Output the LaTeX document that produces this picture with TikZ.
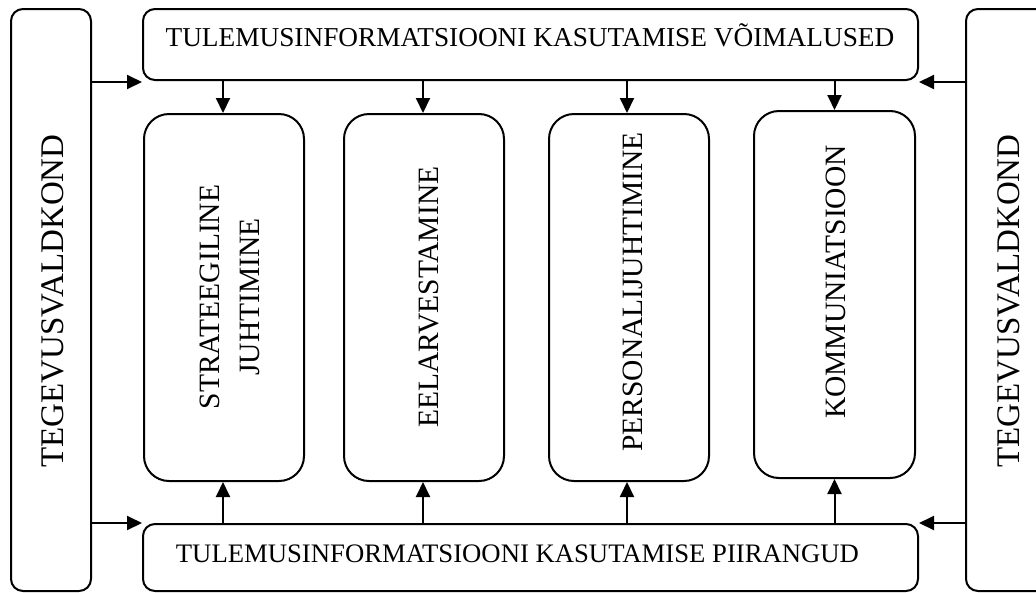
\documentclass[tikz,border=0pt]{standalone}
\usepackage{fontspec}
\setmainfont{Liberation Serif}
\usetikzlibrary{arrows.meta}
\begin{document}
\begin{tikzpicture}[x=1pt,y=-1pt,
  outerbox/.style={draw, line width=2pt, rounded corners=12pt, inner sep=0pt, anchor=north west},
  innerbox/.style={draw, line width=2pt, rounded corners=25pt, inner sep=0pt, anchor=north west, minimum width=160pt, minimum height=367pt},
  arr/.style={line width=2pt, -{Triangle[length=15pt,width=14pt]}},
  hlabel/.style={anchor=base, inner sep=0pt, font=\fontsize{27.3}{30}\selectfont},
  vlabel/.style={rotate=90, inner sep=0pt, align=center, font=\fontsize{29.5}{40}\selectfont},
  sidelabel/.style={rotate=90, inner sep=0pt, font=\fontsize{33}{36}\selectfont}]
\path[use as bounding box] (0,0) rectangle (1036,592);
\clip (0,0) rectangle (1036,592);
% side boxes
\node[outerbox, minimum width=80pt, minimum height=582pt] (L) at (10,8) {};
\node[outerbox, minimum width=95pt, minimum height=582pt] (R) at (965,8) {};
% top and bottom boxes
\node[outerbox, minimum width=775pt, minimum height=71pt] (T) at (142,8) {};
\node[outerbox, minimum width=775pt, minimum height=67pt] (Bt) at (142,523) {};
% inner boxes
\node[innerbox] (B1) at (143,113) {};
\node[innerbox] (B2) at (343,113) {};
\node[innerbox] (B3) at (548,113) {};
\node[innerbox, minimum width=161pt] (B4) at (753,110) {};
% labels
\node[hlabel] (tT) at (530,46.5) {TULEMUSINFORMATSIOONI KASUTAMISE VÕIMALUSED};
\node[hlabel, font=\fontsize{26.7}{30}\selectfont] (tB) at (517.5,562) {TULEMUSINFORMATSIOONI KASUTAMISE PIIRANGUD};
\node[sidelabel] (tL) at (53,301) {TEGEVUSVALDKOND};
\node[sidelabel] (tR) at (1009,301) {TEGEVUSVALDKOND};
\node[vlabel] (t1) at (229.5,297) {STRATEEGILINE\\JUHTIMINE};
\node[vlabel] (t2) at (429,297) {EELARVESTAMINE};
\node[vlabel] (t3) at (633,292) {PERSONALIJUHTIMINE};
\node[vlabel] (t4) at (836,282) {KOMMUNIATSIOON};
% arrows from side boxes
\draw[arr] ([yshift=-1pt]L.east |- T.south) -- ([yshift=-1pt]T.south west);
\draw[arr] (L.east |- Bt.north) -- (Bt.north west);
\draw[arr] ([yshift=-1pt]R.west |- T.south) -- ([yshift=-1pt]T.south east);
\draw[arr] (R.west |- Bt.north) -- (Bt.north east);
% arrows top -> inner
\draw[arr] ([xshift=-1pt]B1.north |- T.south) -- ([xshift=-1pt]B1.north);
\draw[arr] ([xshift=-1pt]B2.north |- T.south) -- ([xshift=-1pt]B2.north);
\draw[arr] ([xshift=-2pt]B3.north |- T.south) -- ([xshift=-2pt]B3.north);
\draw[arr] (B4.north |- T.south) -- (B4.north);
% arrows bottom -> inner
\draw[arr] ([xshift=-1pt]B1.south |- Bt.north) -- ([xshift=-1pt]B1.south);
\draw[arr] ([xshift=-1pt]B2.south |- Bt.north) -- ([xshift=-1pt]B2.south);
\draw[arr] ([xshift=-2pt]B3.south |- Bt.north) -- ([xshift=-2pt]B3.south);
\draw[arr] (B4.south |- Bt.north) -- (B4.south);
\end{tikzpicture}
\end{document}
